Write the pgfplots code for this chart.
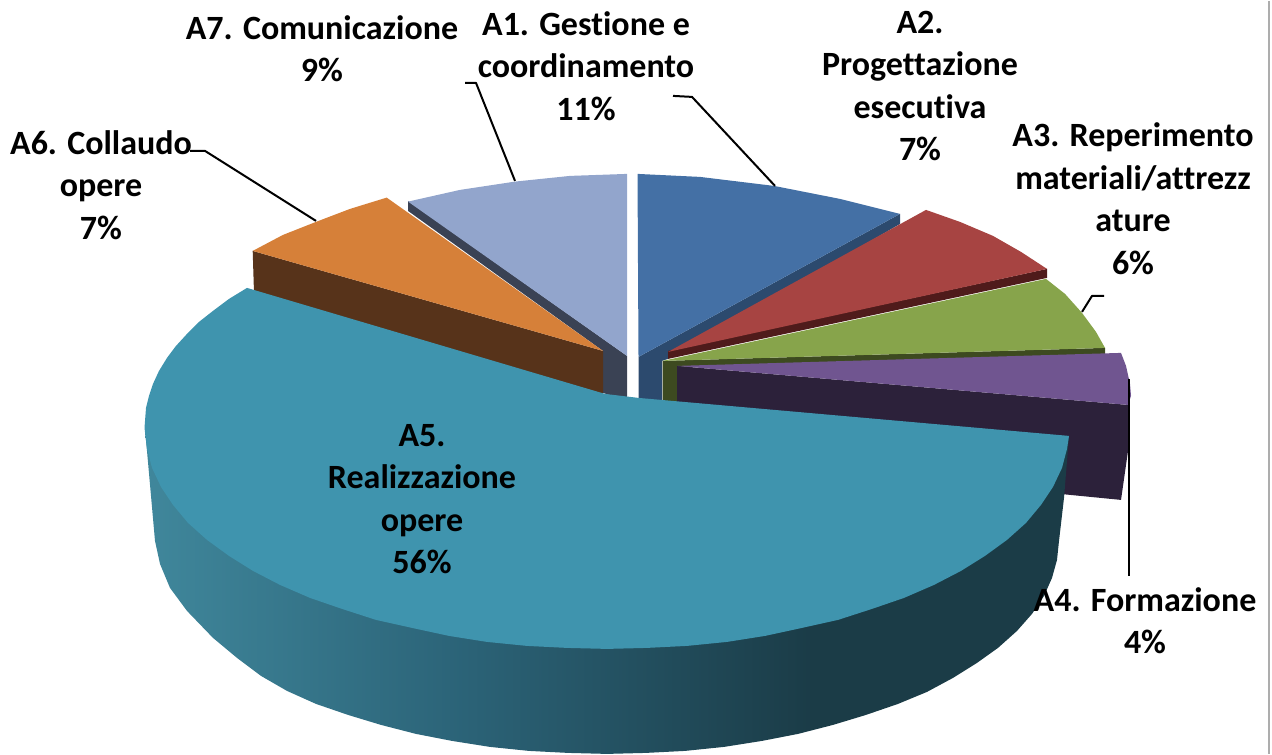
\documentclass[border=0pt]{standalone}
\usepackage{pgfplots}
\pgfplotsset{compat=1.18}
\usepackage{fontspec}
\setmainfont{Carlito}[Ligatures=NoCommon]
\definecolor{aone}{HTML}{4470A5}\definecolor{aoned}{HTML}{2C4A6E}
\definecolor{atwo}{HTML}{A74442}\definecolor{atwod}{HTML}{4F1B1B}
\definecolor{athree}{HTML}{87A44B}\definecolor{athreed}{HTML}{3D4A20}
\definecolor{afour}{HTML}{705590}\definecolor{afourd}{HTML}{2C213A}
\definecolor{afive}{HTML}{3F94AE}
\definecolor{asix}{HTML}{D68039}\definecolor{asixd}{HTML}{57331A}
\definecolor{aseven}{HTML}{92A5CC}\definecolor{asevend}{HTML}{3A4254}
\pgfdeclarehorizontalshading{sideshade}{100bp}{rgb(0bp)=(0.25,0.53,0.61); rgb(25bp)=(0.25,0.53,0.61); rgb(42bp)=(0.17,0.39,0.47); rgb(61bp)=(0.105,0.235,0.28); rgb(100bp)=(0.105,0.235,0.28)}
\begin{document}
\begin{tikzpicture}
\begin{axis}[
  width=636pt, height=376.5pt, scale only axis,
  xmin=0, xmax=1272, ymin=0, ymax=753, y dir=reverse,
  axis line style={draw=none}, ticks=none, clip=false,
  every axis plot/.append style={line join=round}
]
% A7
\addplot[fill=asevend,draw=none] coordinates {(408,200)(408,210)(603,350)(603,392)(627,400)(627,355)};
\addplot[fill=aseven,draw=none] coordinates {(408,200.7)(460,189)(515,180.7)(570,175)(627,173)(627,355)};
% A6
\addplot[fill=asixd,draw=none] coordinates {(252.7,250)(254,292)(603,395)(603,350)};
\addplot[fill=asix,draw=none] coordinates {(252.7,250)(283,234)(316.7,220.7)(350,208)(386.7,196.7)(603,350)};
% A1
\addplot[fill=aoned,draw=none] coordinates {(900,213)(900,223)(668,358)(662,360)(662,403)(638.5,403)(638.5,356)};
\addplot[fill=aone,draw=none] coordinates {(637.5,173)(700,176)(774,185)(840,198)(900,213)(638.5,356)};
% A2
\addplot[fill=atwod,draw=none] coordinates {(1047,268)(1047,277)(668,358)(668,350)};
\addplot[fill=atwo,draw=none] coordinates {(926,209)(960,221)(993,235)(1021,251)(1047,268)(668,351)};
% A3
\addplot[fill=athreed,draw=none] coordinates {(662.5,360)(1105,347)(1105,353)(677,366)(677,405)(662.5,405)};
\addplot[fill=athree,draw=none] coordinates {(1046,278)(1065,293)(1082,312)(1096,331)(1105,347)(662.5,360)};
% A4
\addplot[fill=afourd,draw=none] coordinates {(677,365)(1128,404)(1128,450)(1121,499)(1060,493)(677,405)};
\addplot[fill=afour,draw=none] coordinates {(677,365)(1121,352)(1126,365)(1130,383)(1131,395)(1128,404)};
% A5 side
\addplot[shade,shading=sideshade,draw=none] coordinates {(1069,435)(1064,497)(1059,540)(1057,559)(1052,577)(1044,595)(1032,613)(1017,630)(998,647)(977,662)(953,677)(927,691)(898,703)(866,714)(833,724)(798,733)(762,740)(724,746)(685,750)(646,752)(607,753)(568,752)(529,750)(490,746)(452,740)(416,733)(381,724)(348,714)(316,703)(287,690)(261,675)(237,657)(213,637)(187,610)(170,587)(160,563)(155,540)(147,450)(145,429)};
% A5 top
\addplot[fill=afive,draw=none] coordinates {(605,393)(638.5,397)(1069,435)(1067,448)(1062,467)(1053,486)(1041,504)(1026,522)(1007,539)(985,555)(961,570)(934,584)(904,597)(872,608)(838,619)(802,627)(765,635)(727,641)(687,645)(647,647)(607,648)(567,647)(527,645)(487,641)(449,635)(412,627)(376,619)(342,608)(310,597)(280,584)(253,570)(229,555)(207,539)(188,522)(173,504)(161,486)(152,467)(147,448)(144.5,427)(146,407)(149,395)(153,383)(159,370)(167,357)(176,345)(187,333)(199,321)(213,310)(229,298)(247,287)};
% leaders
\addplot[black,line width=1pt] coordinates {(673,95)(692,96)(775,185)};
\addplot[black,line width=1pt] coordinates {(465,82)(476,82)(515,180)};
\addplot[black,line width=1pt] coordinates {(190,150)(205,150)(316,220)};
\addplot[black,line width=1pt] coordinates {(1104,295)(1092,295)(1082,311)};
\addplot[black,line width=1pt] coordinates {(1128.5,378)(1128.5,575)};
% right frame
\addplot[color=black!32,line width=0.9pt] coordinates {(1269,0)(1269,753)};
% labels
\tikzset{lab/.style={align=center,inner sep=0pt,font=\fontsize{17}{21.25}\selectfont\bfseries}}
\node[lab] at (axis cs:322,48) {A7. Comunicazione\\9\%};
\node[lab] at (axis cs:586,65) {A1. Gestione e\\coordinamento\\11\%};
\node[lab] at (axis cs:920,85) {A2.\\Progettazione\\esecutiva\\7\%};
\node[lab] at (axis cs:1133,198) {A3. Reperimento\\materiali/attrezz\\ature\\6\%};
\node[lab] at (axis cs:101,184) {A6. Collaudo\\opere\\7\%};
\node[lab] at (axis cs:422,498) {A5.\\Realizzazione\\opere\\56\%};
\node[lab] at (axis cs:1145,620) {A4. Formazione\\4\%};
\end{axis}
\end{tikzpicture}
\end{document}
